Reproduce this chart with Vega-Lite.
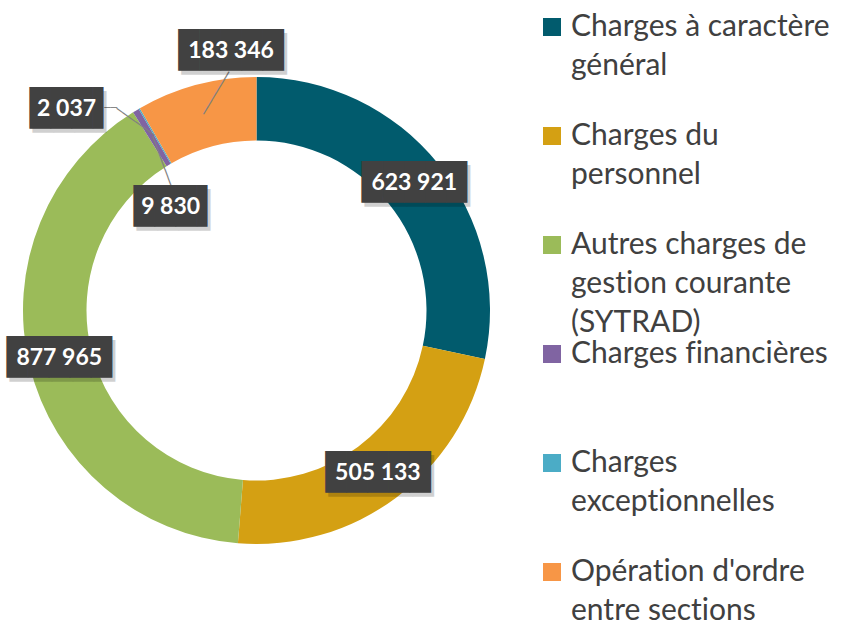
{
  "$schema": "https://vega.github.io/schema/vega-lite/v6.json",
  "width": 513,
  "height": 621,
  "padding": 0,
  "background": "white",
  "config": {"view": {"stroke": null}, "style": {"guide-label": {"lineHeight": 39}}},
  "data": {
    "values": [
      {"cat": "Charges à caractère général", "value": 623921, "order": 1},
      {"cat": "Charges du personnel", "value": 505133, "order": 2},
      {"cat": "Autres charges de gestion courante (SYTRAD)", "value": 877965, "order": 3},
      {"cat": "Charges financières", "value": 9830, "order": 4},
      {"cat": "Charges exceptionnelles", "value": 2037, "order": 5},
      {"cat": "Opération d'ordre entre sections", "value": 183346, "order": 6}
    ]
  },
  "transform": [
    {"stack": "value", "groupby": [], "sort": [{"field": "order", "order": "ascending"}], "as": ["v0", "v1"]},
    {"calculate": "(datum.v0 + datum.v1) / 2", "as": "mid"},
    {"calculate": "replace(format(datum.value, ',d'), ',', ' ')", "as": "label"}
  ],
  "layer": [
    {
      "mark": {"type": "arc", "outerRadius": 233.5, "innerRadius": 170},
      "encoding": {
        "theta": {"field": "v0", "type": "quantitative", "stack": null, "scale": {"domain": [0, 2202232], "nice": false}},
        "theta2": {"field": "v1"},
        "color": {
          "field": "cat", "type": "nominal",
          "scale": {
            "domain": ["Charges à caractère général", "Charges du personnel", "Autres charges de gestion courante (SYTRAD)", "Charges financières", "Charges exceptionnelles", "Opération d'ordre entre sections"],
            "range": ["#015B6D", "#D4A013", "#9BBB59", "#8064A2", "#4BACC6", "#F79646"]
          },
          "legend": {
            "title": null, "orient": "none", "legendX": 537, "legendY": 12, "padding": 0,
            "symbolType": "square", "symbolSize": 324, "symbolStrokeWidth": 0,
            "labelFont": "Lato", "labelFontSize": 30, "labelColor": "#404040",
            "labelLimit": 400, "labelOffset": 4, "labelBaseline": "middle", "gridAlign": "all", "rowPadding": 1,
            "labelExpr": "datum.label == 'Charges à caractère général' ? ['Charges à caractère', 'général'] : datum.label == 'Charges du personnel' ? ['Charges du', 'personnel'] : datum.label == 'Autres charges de gestion courante (SYTRAD)' ? ['Autres charges de', 'gest\u200cion courante', '(SYTRAD)'] : datum.label == 'Charges financières' ? 'Charges f\u200cinancières' : datum.label == 'Charges exceptionnelles' ? ['Charges', 'except\u200cionnelles'] : datum.label == \"Opération d'ordre entre sections\" ? [\"Opérat\u200cion d'ordre\", 'entre sect\u200cions'] : datum.label"
          }
        }
      }
    },
    {
      "transform": [{"filter": "datum.order == 6"}],
      "mark": {"type": "text", "text": "──────", "font": "DejaVu Sans Mono", "fontSize": 13.7, "radius": 203, "align": "left", "baseline": "middle", "angle": -59, "color": "#7F7F7F"},
      "encoding": {"theta": {"field": "mid", "type": "quantitative", "stack": null}}
    },
    {
      "transform": [{"filter": "datum.order == 5"}],
      "mark": {"type": "text", "text": "──────", "font": "DejaVu Sans Mono", "fontSize": 12.8, "radius": 203, "align": "left", "baseline": "middle", "angle": -144.4, "color": "#7F7F7F"},
      "encoding": {"theta": {"field": "mid", "type": "quantitative", "stack": null}}
    },
    {
      "transform": [{"filter": "datum.order == 5"}],
      "mark": {"type": "text", "text": "──", "font": "DejaVu Sans Mono", "fontSize": 10.5, "radius": 203, "align": "right", "baseline": "middle", "dx": -37.6, "dy": -26.9, "color": "#7F7F7F"},
      "encoding": {"theta": {"field": "mid", "type": "quantitative", "stack": null}}
    },
    {
      "transform": [{"filter": "datum.order == 4"}],
      "mark": {"type": "text", "text": "──────", "font": "DejaVu Sans Mono", "fontSize": 14.6, "radius": 203, "align": "left", "baseline": "middle", "angle": 69.5, "color": "#7F7F7F"},
      "encoding": {"theta": {"field": "mid", "type": "quantitative", "stack": null}}
    },
    {
      "transform": [{"filter": "datum.order <= 3"}],
      "encoding": {"theta": {"field": "mid", "type": "quantitative", "stack": null}},
      "layer": [
        {"mark": {"type": "text", "text": "█████", "font": "DejaVu Sans Mono", "fontSize": 35, "radius": 203, "align": "center", "baseline": "middle", "color": "#000000", "opacity": 0.18, "dx": 3, "dy": 4}},
        {"mark": {"type": "text", "text": "█████", "font": "DejaVu Sans Mono", "fontSize": 35, "radius": 203, "align": "center", "baseline": "middle", "color": "#414141"}},
        {"mark": {"type": "text", "font": "Lato", "fontWeight": "bold", "fontSize": 23, "radius": 203, "align": "center", "baseline": "middle", "color": "white"}, "encoding": {"text": {"field": "label"}}}
      ]
    },
    {
      "transform": [{"filter": "datum.order == 6"}],
      "encoding": {"theta": {"field": "mid", "type": "quantitative", "stack": null}},
      "layer": [
        {"mark": {"type": "text", "text": "█████", "font": "DejaVu Sans Mono", "fontSize": 35, "radius": 203, "align": "center", "baseline": "middle", "color": "#000000", "opacity": 0.18, "dx": 30, "dy": -59}},
        {"mark": {"type": "text", "text": "█████", "font": "DejaVu Sans Mono", "fontSize": 35, "radius": 203, "align": "center", "baseline": "middle", "color": "#414141", "dx": 27, "dy": -63}},
        {"mark": {"type": "text", "font": "Lato", "fontWeight": "bold", "fontSize": 23, "radius": 203, "align": "center", "baseline": "middle", "color": "white", "dx": 27, "dy": -63}, "encoding": {"text": {"field": "label"}}}
      ]
    },
    {
      "transform": [{"filter": "datum.order == 5"}],
      "encoding": {"theta": {"field": "mid", "type": "quantitative", "stack": null}},
      "layer": [
        {"mark": {"type": "text", "text": "███▌", "font": "DejaVu Sans Mono", "fontSize": 35, "radius": 203, "align": "center", "baseline": "middle", "color": "#000000", "opacity": 0.18, "dx": -80, "dy": -22}},
        {"mark": {"type": "text", "text": "███▌", "font": "DejaVu Sans Mono", "fontSize": 35, "radius": 203, "align": "center", "baseline": "middle", "color": "#414141", "dx": -83, "dy": -26}},
        {"mark": {"type": "text", "font": "Lato", "fontWeight": "bold", "fontSize": 23, "radius": 203, "align": "center", "baseline": "middle", "color": "white", "dx": -88, "dy": -26}, "encoding": {"text": {"field": "label"}}}
      ]
    },
    {
      "transform": [{"filter": "datum.order == 4"}],
      "encoding": {"theta": {"field": "mid", "type": "quantitative", "stack": null}},
      "layer": [
        {"mark": {"type": "text", "text": "███▌", "font": "DejaVu Sans Mono", "fontSize": 35, "radius": 203, "align": "center", "baseline": "middle", "color": "#000000", "opacity": 0.18, "dx": 27, "dy": 74}},
        {"mark": {"type": "text", "text": "███▌", "font": "DejaVu Sans Mono", "fontSize": 35, "radius": 203, "align": "center", "baseline": "middle", "color": "#414141", "dx": 24, "dy": 70}},
        {"mark": {"type": "text", "font": "Lato", "fontWeight": "bold", "fontSize": 23, "radius": 203, "align": "center", "baseline": "middle", "color": "white", "dx": 19, "dy": 70}, "encoding": {"text": {"field": "label"}}}
      ]
    }
  ]
}
